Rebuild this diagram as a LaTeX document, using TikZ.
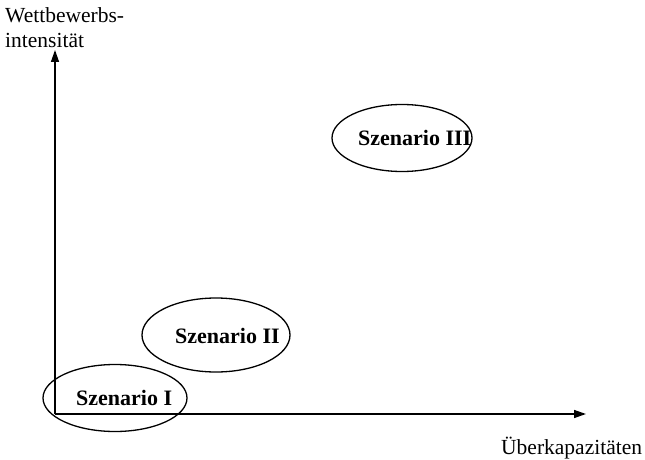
\documentclass[tikz,border=0pt]{standalone}
\usepackage{fontspec}
\setmainfont{Liberation Serif}
\usetikzlibrary{arrows.meta,shapes.geometric}
\begin{document}
\begin{tikzpicture}[x=1pt,y=-1pt,
  axis/.style={line width=1.4pt,-{Triangle[length=12pt,width=8pt]}},
  scen/.style={draw,line width=1.3pt,ellipse,inner sep=0pt},
  lbl/.style={font=\fontsize{21.5}{26}\selectfont,inner sep=0pt},
  stxt/.style={font=\fontsize{22}{26}\selectfont\bfseries,inner sep=0pt,anchor=base west}]
\useasboundingbox (0,0) rectangle (645,460);
\coordinate (O) at (55,414);
\coordinate (ytip) at (55,50);
\coordinate (xtip) at (586,414);
\draw[axis] (O) -- (ytip);
\draw[axis] (O) -- (xtip);
\node[lbl,anchor=base west] (yl1) at (5,23) {Wettbewerbs-};
\node[lbl,anchor=base west] (yl2) at (5,48) {intensität};
\node[lbl,anchor=base west] (xl) at (501,454) {Überkapazitäten};
\node[scen,minimum width=144pt,minimum height=67pt] (e1) at (115,398) {};
\node[scen,minimum width=148pt,minimum height=74pt] (e2) at (216,335) {};
\node[scen,minimum width=140pt,minimum height=67pt] (e3) at (402,138) {};
\node[stxt] (t1) at (76,405) {Szenario I};
\node[stxt] (t2) at (175,343) {Szenario II};
\node[stxt] (t3) at (358,145) {Szenario III};
\end{tikzpicture}
\end{document}
